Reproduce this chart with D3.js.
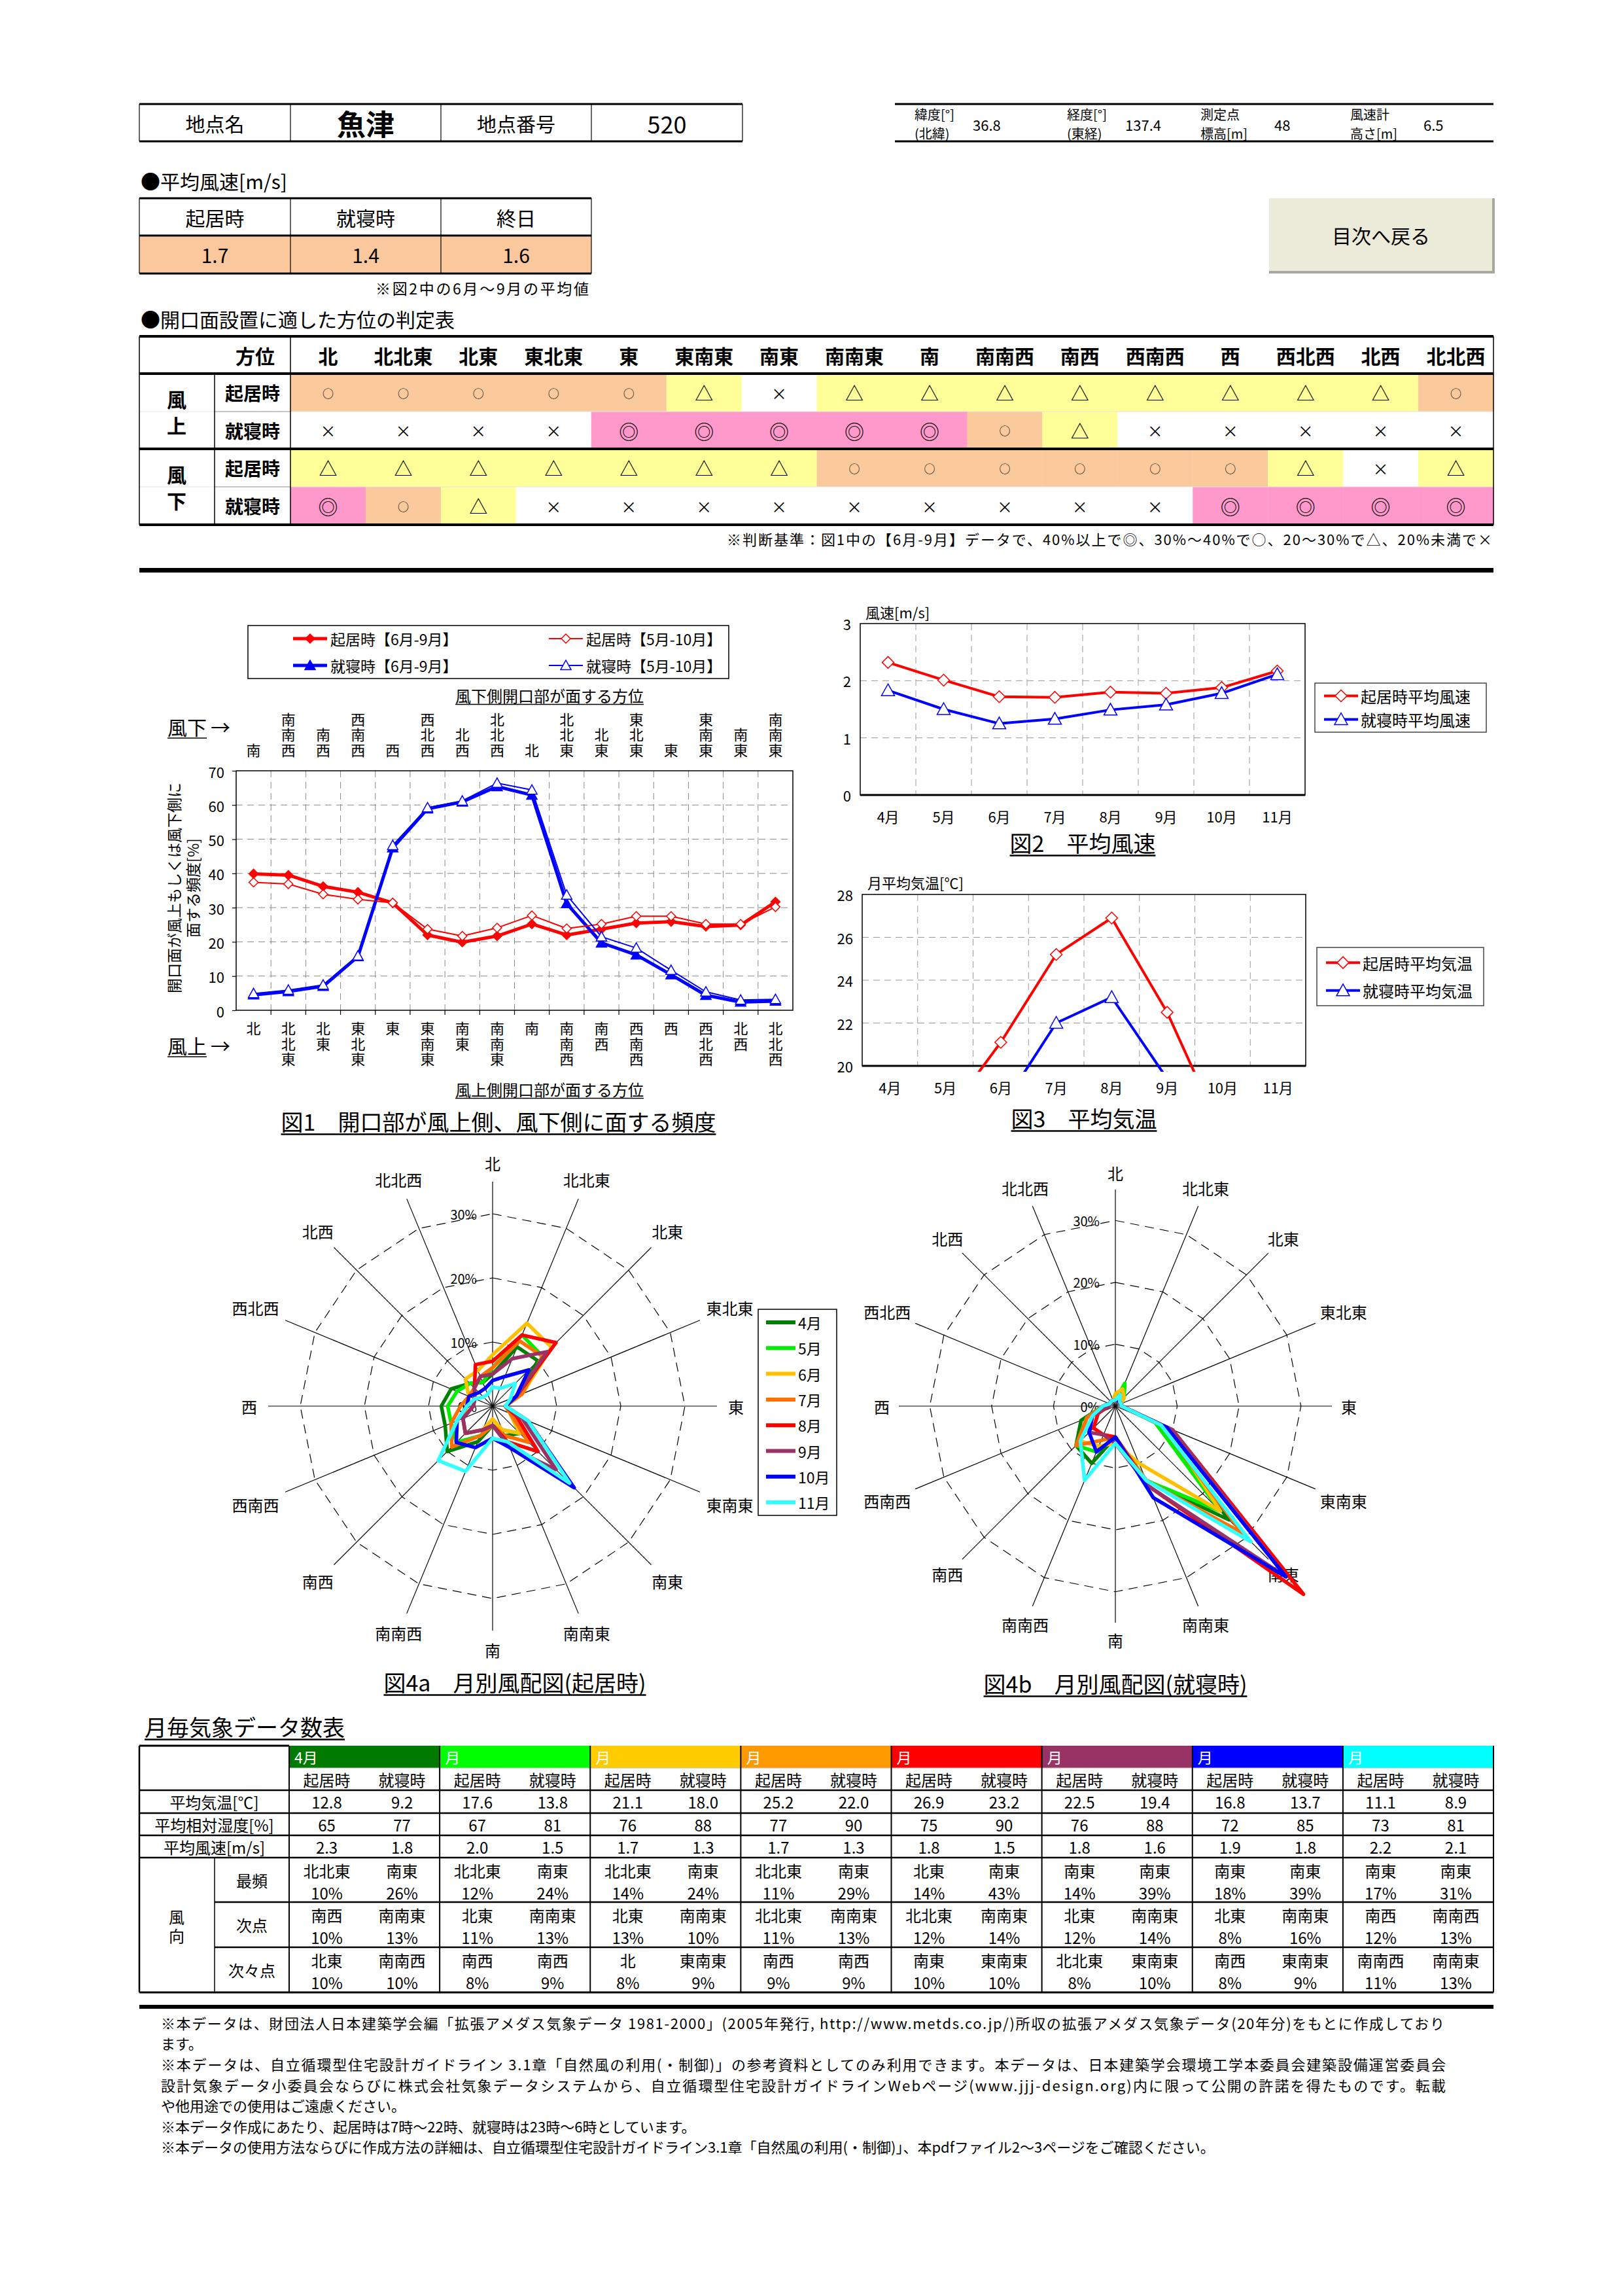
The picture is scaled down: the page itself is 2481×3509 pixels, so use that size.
<!DOCTYPE html>
<html lang="ja"><head><meta charset="utf-8"><title>魚津</title>
<script src="https://cdn.jsdelivr.net/npm/d3@7/dist/d3.min.js"></script>
<style>
html,body{margin:0;padding:0;background:#fff;}
svg{display:block;}
text{font-family:"Noto Sans CJK JP","Noto Sans",sans-serif;}
</style></head><body>
<svg id="page" width="2481" height="3509" xmlns="http://www.w3.org/2000/svg"></svg>
<script>
// ================= DATA =================
const siteInfo = ["地点名","魚津","地点番号","520"];
const geoLabels = [["緯度[°]","(北緯)"],["経度[°]","(東経)"],["測定点","標高[m]"],["風速計","高さ[m]"]];
const geoValues = ["36.8","137.4","48","6.5"];
const avgWindLabels = ["起居時","就寝時","終日"];
const avgWindValues = ["1.7","1.4","1.6"];

const directions = ["北","北北東","北東","東北東","東","東南東","南東","南南東","南","南南西","南西","西南西","西","西北西","北西","北北西"];
const leeDirections = ["南","南南西","南西","西南西","西","西北西","北西","北北西","北","北北東","北東","東北東","東","東南東","南東","南南東"];

const judgeGroups = ["風上","風下"];
const judgeTimes = ["起居時","就寝時"];
const judgeUpDay   = ["○","○","○","○","○","△","×","△","△","△","△","△","△","△","△","○"];
const judgeUpNight = ["×","×","×","×","◎","◎","◎","◎","◎","○","△","×","×","×","×","×"];
const judgeDnDay   = ["△","△","△","△","△","△","△","○","○","○","○","○","○","△","×","△"];
const judgeDnNight = ["◎","○","△","×","×","×","×","×","×","×","×","×","◎","◎","◎","◎"];
const judgeNote = "※判断基準：図1中の【6月-9月】データで、40%以上で◎、30%～40%で○、20～30%で△、20%未満で×";

// Fig.1 frequency [%] (windward direction order = directions)
const fig1DayJunSep   = [39.9,39.5,36.2,34.5,31.4,22.0,19.9,21.7,25.2,22.0,23.7,25.5,25.9,24.5,24.9,31.7];
const fig1DayMayOct   = [37.4,36.9,33.9,32.4,31.4,23.7,21.7,24.1,27.7,23.9,25.2,27.5,27.5,25.2,25.2,30.2];
const fig1NightJunSep = [4.5,5.5,7.0,15.7,47.5,58.9,60.9,65.4,62.9,31.2,19.7,16.2,10.4,4.4,2.4,2.7];
const fig1NightMayOct = [4.9,5.9,7.4,15.9,48.2,59.2,61.2,66.4,64.4,33.7,21.5,18.2,11.7,5.4,3.0,3.2];
const fig1Ticks = [0,10,20,30,40,50,60,70];
const fig1Legend = ["起居時【6月-9月】","起居時【5月-10月】","就寝時【6月-9月】","就寝時【5月-10月】"];

// Monthly
const months = ["4月","5月","6月","7月","8月","9月","10月","11月"];
const fig2Day   = [2.32,2.01,1.72,1.71,1.80,1.78,1.88,2.17];
const fig2Night = [1.83,1.50,1.25,1.33,1.49,1.58,1.78,2.11];
const fig2Ticks = [0,1,2,3];
const fig2Legend = ["起居時平均風速","就寝時平均風速"];
const tempDay   = [12.8,17.6,21.1,25.2,26.9,22.5,16.8,11.1];
const tempNight = [9.2,13.8,18.0,22.0,23.2,19.4,13.7,8.9];
const fig3Ticks = [20,22,24,26,28];
const fig3Legend = ["起居時平均気温","就寝時平均気温"];
const humDay   = [65,67,76,77,75,76,72,73];
const humNight = [77,81,88,90,90,88,85,81];
const wsDay    = [2.3,2.0,1.7,1.7,1.8,1.8,1.9,2.2];
const wsNight  = [1.8,1.5,1.3,1.3,1.5,1.6,1.8,2.1];

// Fig.4 monthly wind roses [%] (order = directions), 4月..11月
const roseDay = [
  [5,10,10,4,2,3,6,5,3,6,10,8,8,7,5,4],
  [6,12,11,5,2,3,6,4,3,5,8,7,7,6,5,4],
  [8,14,13,5,2,3,6,4,2,4,6,5,4,4,6,6],
  [6,11,11,5,2,3,8,5,3,5,9,7,5,4,4,5],
  [7,12,14,4,2,4,10,6,3,4,6,5,3,3,4,7],
  [5,8,12,4,2,5,14,7,3,4,6,5,3,3,4,5],
  [4,5,8,4,2,6,18,7,5,7,8,6,4,4,3,3],
  [3,3,5,3,2,6,17,6,5,11,12,6,4,3,2,2]
];
const roseNight = [
  [1,3,2,1,1,7,26,13,5,10,9,6,2,1,1,1],
  [1,4,2,1,1,7,24,13,5,8,9,5,2,1,1,1],
  [2,3,2,1,1,9,24,10,6,7,8,5,2,1,1,1],
  [1,2,1,1,1,8,29,13,5,6,9,5,2,1,1,1],
  [1,1,1,1,1,10,43,14,5,5,5,3,1,1,1,1],
  [1,1,1,1,1,10,39,14,6,5,6,4,1,1,1,1],
  [1,1,1,1,1,9,39,16,5,8,6,4,2,1,1,1],
  [1,2,1,1,1,8,31,13,6,13,8,4,2,1,1,1]
];
const roseTicks = [0,10,20,30];
const roseColors = ["#008000","#00EE00","#FFC000","#FF7000","#FF0000","#993366","#0000FF","#33FFFF"];
const headColors = ["#007A00","#00FF00","#FFCC00","#FF9900","#FF0000","#993366","#0000FF","#00FFFF"];
const headMonthLabels = ["4月","月","月","月","月","月","月","月"];

// Top-3 wind directions table
const topDirDay = [
  [["北北東",10],["南西",10],["北東",10]],
  [["北北東",12],["北東",11],["南西",8]],
  [["北北東",14],["北東",13],["北",8]],
  [["北北東",11],["北北東",11],["南西",9]],
  [["北東",14],["北北東",12],["南東",10]],
  [["南東",14],["北東",12],["北北東",8]],
  [["南東",18],["北東",8],["南西",8]],
  [["南東",17],["南西",12],["南南西",11]]
];
const topDirNight = [
  [["南東",26],["南南東",13],["南南西",10]],
  [["南東",24],["南南東",13],["南西",9]],
  [["南東",24],["南南東",10],["東南東",9]],
  [["南東",29],["南南東",13],["南西",9]],
  [["南東",43],["南南東",14],["東南東",10]],
  [["南東",39],["南南東",14],["東南東",10]],
  [["南東",39],["南南東",16],["東南東",9]],
  [["南東",31],["南南西",13],["南南東",13]]
];
const tableRowLabels = ["平均気温[℃]","平均相対湿度[%]","平均風速[m/s]"];
const rankLabels = ["最頻","次点","次々点"];

const footnotes = [
  "※本データは、財団法人日本建築学会編「拡張アメダス気象データ 1981-2000」(2005年発行, http://www.metds.co.jp/)所収の拡張アメダス気象データ(20年分)をもとに作成しており",
  "ます。",
  "※本データは、自立循環型住宅設計ガイドライン 3.1章「自然風の利用(・制御)」の参考資料としてのみ利用できます。本データは、日本建築学会環境工学本委員会建築設備運営委員会",
  "設計気象データ小委員会ならびに株式会社気象データシステムから、自立循環型住宅設計ガイドラインWebページ(www.jjj-design.org)内に限って公開の許諾を得たものです。転載",
  "や他用途での使用はご遠慮ください。",
  "※本データ作成にあたり、起居時は7時～22時、就寝時は23時～6時としています。",
  "※本データの使用方法ならびに作成方法の詳細は、自立循環型住宅設計ガイドライン3.1章「自然風の利用(・制御)」、本pdfファイル2～3ページをご確認ください。"
];

// ================= DRAW HELPERS =================
const svg = d3.select("#page");
function T(x,y,s,size,o={}){
  const p = o.parent || svg;
  const t = p.append("text").attr("x",x).attr("y",y).attr("font-size",size)
    .attr("text-anchor",o.anchor||"start").attr("dominant-baseline","central")
    .attr("fill",o.fill||"#000").text(s);
  if(o.weight) t.attr("font-weight",o.weight);
  if(o.len) t.attr("textLength",o.len).attr("lengthAdjust",o.adj||"spacing");
  if(o.rotate!==undefined) t.attr("transform",`rotate(${o.rotate},${x},${y})`);
  return t;
}
function L(x1,y1,x2,y2,w=1,c="#000",dash=null){
  const l = svg.append("line").attr("x1",x1).attr("y1",y1).attr("x2",x2).attr("y2",y2)
    .attr("stroke",c).attr("stroke-width",w);
  if(dash) l.attr("stroke-dasharray",dash);
  return l;
}
function R(x,y,w,h,fill,stroke=null,sw=1){
  const r = svg.append("rect").attr("x",x).attr("y",y).attr("width",w).attr("height",h).attr("fill",fill);
  if(stroke) r.attr("stroke",stroke).attr("stroke-width",sw);
  return r;
}
function UL(t,y,size,w=2){
  const b = t.node().getBBox();
  L(b.x, y+size*0.6, b.x+b.width, y+size*0.6, w);
}
// vertical (tategaki) text as one element
function VText(x,y,s,size,anchor){
  return svg.append("text").attr("x",x).attr("y",y).attr("font-size",size)
    .attr("text-anchor",anchor).style("writing-mode","vertical-rl")
    .style("letter-spacing","1.5px").attr("fill","#000").text(s);
}
const diamond = s => `M0,${-s}L${s},0L0,${s}L${-s},0Z`;
const triangle = s => `M0,${-s}L${s},${s*0.8}L${-s},${s*0.8}Z`;
function marker(x,y,path,fill,stroke,sw=1.5){
  svg.append("path").attr("transform",`translate(${x},${y})`).attr("d",path)
    .attr("fill",fill).attr("stroke",stroke).attr("stroke-width",sw);
}

// ================= HEADER =================
const infoX = [213,444,674,904,1135];
infoX.forEach(x=>L(x,159,x,216,1.2));
L(213,159,1135,159,3); L(213,216,1135,216,3);
const infoSizes = [30,44,30,36];
siteInfo.forEach((s,i)=>T((infoX[i]+infoX[i+1])/2,188,s,infoSizes[i],{anchor:"middle",weight:i===1?"bold":null}));
L(1368,159,2283,159,3); L(1368,216,2283,216,3);
const geoLX = [1398,1631,1835,2064], geoVX = [1487,1720,1948,2176];
geoLabels.forEach((p,i)=>{ T(geoLX[i],174,p[0],20); T(geoLX[i],203,p[1],20); T(geoVX[i],190,geoValues[i],22); });

// Average wind speed
T(215,276,"●平均風速[m/s]",30);
const awX = [213,444,674,904];
R(213,360,691,58,"#FAC89C");
L(213,303,904,303,3); L(213,360,904,360,3); L(213,418,904,418,3);
awX.forEach(x=>L(x,303,x,418,1.2));
avgWindLabels.forEach((s,i)=>T((awX[i]+awX[i+1])/2,332,s,30,{anchor:"middle"}));
avgWindValues.forEach((s,i)=>T((awX[i]+awX[i+1])/2,389,s,30,{anchor:"middle"}));
T(900,440,"※図2中の6月～9月の平均値",23,{anchor:"end",len:326});

// Button
R(1940,303,343,113,"#ECEAD8");
L(1940,416,2283,416,4,"#A8A8A0"); L(2283,303,2283,418,4,"#A8A8A0");
T(2111,359,"目次へ戻る",30,{anchor:"middle"});

// ================= JUDGEMENT TABLE =================
T(215,487,"●開口面設置に適した方位の判定表",30);
const jx0 = 444, jx1 = 2283, jw = (jx1-jx0)/16;
const jy = [514,571,629,686,744,802];
const judgeRows = [judgeUpDay,judgeUpNight,judgeDnDay,judgeDnNight];
const judgeFill = {"○":"#FBCA9C","△":"#FFFF99","×":"#FFFFFF","◎":"#FF99CC"};
const judgeSize = {"○":17,"△":28,"×":24,"◎":30};
judgeRows.forEach((row,r)=>row.forEach((s,c)=>{
  R(jx0+c*jw, jy[r+1], jw+0.5, jy[r+2]-jy[r+1], judgeFill[s]);
}));
judgeRows.forEach((row,r)=>row.forEach((s,c)=>{
  T(jx0+(c+0.5)*jw, (jy[r+1]+jy[r+2])/2, s, judgeSize[s], {anchor:"middle"});
}));
L(213,jy[2],2283,jy[2],1,"#E4E4E4");
L(328,jy[2],444,jy[2],1,"#999");
L(213,jy[4],2283,jy[4],1,"#E4E4E4");
L(328,jy[4],444,jy[4],1,"#999");
L(213,jy[0],2283,jy[0],4); L(213,jy[1],2283,jy[1],4); L(213,jy[3],2283,jy[3],4); L(213,jy[5],2283,jy[5],4);
L(213,jy[0],213,jy[5],1.5); L(2283,jy[0],2283,jy[5],1.5);
L(444,jy[0],444,jy[5],1.5); L(328,jy[1],328,jy[5],1.5);
T(420,543,"方位",30,{anchor:"end",weight:"bold"});
directions.forEach((d,c)=>T(jx0+(c+0.5)*jw,543,d,30,{anchor:"middle",weight:"bold"}));
judgeGroups.forEach((g,k)=>{
  const yc = (jy[1+2*k]+jy[3+2*k])/2;
  T(270,yc-20,g[0],30,{anchor:"middle",weight:"bold"});
  T(270,yc+20,g[1],30,{anchor:"middle",weight:"bold"});
  judgeTimes.forEach((t,m)=>T(386,(jy[1+2*k+m]+jy[2+2*k+m])/2,t,28,{anchor:"middle",weight:"bold"}));
});
T(2281,823,judgeNote,22,{anchor:"end",len:1170});
R(213,868,2070,7,"#000");

// ================= FIG 1 =================
const f1x = d3.scalePoint().domain(d3.range(16)).range([361,1212]).padding(0.5);
const f1y = d3.scaleLinear().domain([0,70]).range([1544,1178]);
const f1step = f1x.step();
// legend
R(379,956,735,81,"#fff","#000",1.5);
const legPos = [[448,976],[839,976],[448,1017],[839,1017]];
const legStyle = [
  {c:"#FF0000",w:5,m:diamond(7),f:"#FF0000"},
  {c:"#FF0000",w:2,m:diamond(7),f:"#fff"},
  {c:"#0000FF",w:5,m:triangle(8),f:"#0000FF"},
  {c:"#0000FF",w:2,m:triangle(8),f:"#fff"}
];
fig1Legend.forEach((s,i)=>{
  const [x,y] = legPos[i];
  L(x,y,x+52,y,legStyle[i].w,legStyle[i].c);
  marker(x+26,y,legStyle[i].m,legStyle[i].f,legStyle[i].c,1.5);
  T(x+57,y,s,23);
});
const tl1 = T(840,1062,"風下側開口部が面する方位",24,{anchor:"middle"}); UL(tl1,1062,24,1.5);
const tl2 = T(840,1664,"風上側開口部が面する方位",24,{anchor:"middle"}); UL(tl2,1664,24,1.5);
const fd = T(256,1110,"風下",30); UL(fd,1110,30,1.5); T(322,1110,"→",30);
const fu = T(256,1597,"風上",30); UL(fu,1597,30,1.5); T(322,1597,"→",30);
leeDirections.forEach((d,i)=>VText(f1x(i),1159,d,22,"end"));
directions.forEach((d,i)=>VText(f1x(i),1561,d,22,"start"));
// grid
fig1Ticks.filter(v=>v>0&&v<70).forEach(v=>L(361,f1y(v),1212,f1y(v),1,"#888","10,7"));
d3.range(1,16).forEach(k=>L(361+k*f1step,1178,361+k*f1step,1544,1,"#888","10,7"));
d3.range(1,16).forEach(k=>L(361+k*f1step,1544,361+k*f1step,1551,1.2));
R(361,1178,851,366,"none","#000",1.5);
const f1ax = svg.append("g").attr("transform","translate(361,0)")
  .call(d3.axisLeft(f1y).tickValues(fig1Ticks).tickSize(6).tickPadding(12));
f1ax.select(".domain").remove();
f1ax.selectAll("line").attr("stroke","#000").attr("stroke-width",1.2);
f1ax.selectAll("text").attr("font-size",22).attr("fill","#000").attr("dy",null).attr("dominant-baseline","central");
T(265,1357,"開口面が風上もしくは風下側に",23,{anchor:"middle",rotate:-90});
T(294,1357,"面する頻度[%]",23,{anchor:"middle",rotate:-90});
const f1line = d3.line().x((d,i)=>f1x(i)).y(d=>f1y(d));
function f1series(data,c,w,m,fill){
  svg.append("path").attr("d",f1line(data)).attr("fill","none").attr("stroke",c).attr("stroke-width",w).attr("stroke-linejoin","round");
  data.forEach((d,i)=>marker(f1x(i),f1y(d),m,fill,c,1.5));
}
f1series(fig1DayJunSep,"#FF0000",5,diamond(7),"#FF0000");
f1series(fig1NightJunSep,"#0000FF",5,triangle(8),"#0000FF");
f1series(fig1DayMayOct,"#FF0000",2,diamond(7),"#fff");
f1series(fig1NightMayOct,"#0000FF",2,triangle(8),"#fff");
const t1 = T(762,1713,"図1　開口部が風上側、風下側に面する頻度",34,{anchor:"middle"}); UL(t1,1713,34,2.5);

// ================= FIG 2 / FIG 3 =================
function monthChart(x0,x1,y0,y1,domain,ticks,day,night,unitLabel,unitY,title,titleY,legend,legBox,clipBottom){
  const xs = d3.scaleBand().domain(months).range([x0,x1]);
  const ys = d3.scaleLinear().domain(domain).range([y1,y0]);
  ticks.slice(1,-1).forEach(v=>L(x0,ys(v),x1,ys(v),1,"#999","10,7"));
  months.slice(1).forEach(m=>L(xs(m),y0,xs(m),y1,1,"#999","10,7"));
  R(x0,y0,x1-x0,y1-y0,"none","#000",1.5);
  L(x0,y1,x1,y1,3);
  ticks.forEach(v=>T(x0-14,ys(v),String(v),22,{anchor:"end"}));
  months.forEach(m=>T(xs(m)+xs.bandwidth()/2,y1+32,m,22,{anchor:"middle"}));
  T(x0+8,unitY,unitLabel,22);
  const id = "clip"+x0+"_"+y0;
  svg.append("clipPath").attr("id",id).append("rect").attr("x",x0-20).attr("y",y0-20).attr("width",x1-x0+40).attr("height",clipBottom-y0+20);
  const ln = d3.line().x((d,i)=>xs(months[i])+xs.bandwidth()/2).y(d=>ys(d));
  const gg = svg.append("g").attr("clip-path",`url(#${id})`);
  [[day,"#FF0000",diamond(9)],[night,"#0000FF",triangle(10)]].forEach(([data,c,m])=>{
    gg.append("path").attr("d",ln(data)).attr("fill","none").attr("stroke",c).attr("stroke-width",4).attr("stroke-linejoin","round");
    data.forEach((d,i)=>gg.append("path").attr("transform",`translate(${xs(months[i])+xs.bandwidth()/2},${ys(d)})`).attr("d",m).attr("fill","#fff").attr("stroke",c).attr("stroke-width",1.5));
  });
  const tt = T((x0+x1)/2,titleY,title,34,{anchor:"middle"}); UL(tt,titleY,34,2.5);
  const [bx,by,bw,bh] = legBox;
  R(bx,by,bw,bh,"#fff","#444",1.5);
  legend.forEach((s,i)=>{
    const yy = by+bh*(i===0?0.26:0.74);
    L(bx+14,yy,bx+66,yy,4,i===0?"#FF0000":"#0000FF");
    marker(bx+40,yy,i===0?diamond(9):triangle(10),"#fff",i===0?"#FF0000":"#0000FF",1.5);
    T(bx+70,yy,s,24);
  });
}
monthChart(1315,1995,953,1215,[0,3],fig2Ticks,fig2Day,fig2Night,"風速[m/s]",935,"図2　平均風速",1287,fig2Legend,[2010,1044,262,75],1215);
monthChart(1318,1996,1367,1629,[20,28],fig3Ticks,tempDay,tempNight,"月平均気温[℃]",1348,"図3　平均気温",1708,fig3Legend,[2013,1448,255,89],1638);

// ================= FIG 4 (wind roses) =================
function rose(cx,cy,rmax,labelBase,data,title,titleX,titleY){
  const r = d3.scaleLinear().domain([0,35]).range([0,rmax]);
  const ang = i => i*Math.PI/8;
  roseTicks.filter(v=>v>0).forEach(v=>{
    const pts = d3.range(16).map(i=>[cx+r(v)*Math.sin(ang(i)), cy-r(v)*Math.cos(ang(i))]);
    svg.append("polygon").attr("points",pts.map(p=>p.join(",")).join(" ")).attr("fill","none")
      .attr("stroke","#000").attr("stroke-width",1.2).attr("stroke-dasharray","14,9");
  });
  d3.range(16).forEach(i=>L(cx,cy,cx+rmax*Math.sin(ang(i)),cy-rmax*Math.cos(ang(i)),1.2));
  directions.forEach((d,i)=>{
    const t = T(0,0,d,24,{anchor:"middle"});
    const w = t.node().getBBox().width;
    const s = Math.sin(ang(i));
    const rl = labelBase + Math.max(0,w/2-12)*s*s;
    t.attr("x",cx+rl*s).attr("y",cy-rl*Math.cos(ang(i)));
  });
  roseTicks.forEach(v=>T(cx-24,cy-r(v),v+"%",20,{anchor:"end"}));
  const ln = d3.lineRadial().angle((d,i)=>ang(i)).radius(d=>r(d)).curve(d3.curveLinearClosed);
  data.forEach((s,k)=>svg.append("path").attr("transform",`translate(${cx},${cy})`).attr("d",ln(s))
    .attr("fill","none").attr("stroke",roseColors[k]).attr("stroke-width",5.5).attr("stroke-linejoin","round"));
  const tt = T(titleX,titleY,title,34,{anchor:"middle"}); UL(tt,titleY,34,2.5);
}
rose(753,2149,343,372,roseDay,"図4a　月別風配図(起居時)",787,2570);
rose(1705,2149,331,357,roseNight,"図4b　月別風配図(就寝時)",1705,2572);
// legend 4a
R(1159,2001,120,315,"#fff","#000",1.5);
months.forEach((m,i)=>{
  const yy = 2021+i*39.3;
  L(1171,yy,1216,yy,6,roseColors[i]);
  T(1220,yy,m,23);
});

// ================= MONTHLY TABLE =================
const mt = T(221,2638,"月毎気象データ数表",34); UL(mt,2638,34,2.5);
const tx0 = 213, tlab = 442, tx1 = 2283, tcw = (tx1-tlab)/8;
const ty = [2668,2702,2736,2771,2805,2839,2907,2976,3045];
months.forEach((m,i)=>{
  R(tlab+i*tcw,ty[0],tcw,ty[1]-ty[0],headColors[i]);
  T(tlab+i*tcw+8,(ty[0]+ty[1])/2,headMonthLabels[i],23,{fill:"#fff"});
  const cL = tlab+i*tcw+tcw*0.25, cR = tlab+i*tcw+tcw*0.75;
  T(cL,(ty[1]+ty[2])/2,"起居時",24,{anchor:"middle"});
  T(cR,(ty[1]+ty[2])/2,"就寝時",24,{anchor:"middle"});
  const rows = [[tempDay[i].toFixed(1),tempNight[i].toFixed(1)],[String(humDay[i]),String(humNight[i])],[wsDay[i].toFixed(1),wsNight[i].toFixed(1)]];
  rows.forEach((rv,k)=>{
    const yc = (ty[2+k]+ty[3+k])/2;
    T(cL,yc,rv[0],24,{anchor:"middle"}); T(cR,yc,rv[1],24,{anchor:"middle"});
  });
  [0,1,2].forEach(k=>{
    const top = ty[5+k];
    T(cL,top+19,topDirDay[i][k][0],24,{anchor:"middle"});
    T(cL,top+53,topDirDay[i][k][1]+"%",24,{anchor:"middle"});
    T(cR,top+19,topDirNight[i][k][0],24,{anchor:"middle"});
    T(cR,top+53,topDirNight[i][k][1]+"%",24,{anchor:"middle"});
  });
});
tableRowLabels.forEach((s,k)=>T((tx0+tlab)/2,(ty[2+k]+ty[3+k])/2,s,24,{anchor:"middle"}));
rankLabels.forEach((s,k)=>T(385,(ty[5+k]+ty[6+k])/2,s,24,{anchor:"middle"}));
T(270,2928,"風",24,{anchor:"middle"}); T(270,2957,"向",24,{anchor:"middle"});
// table lines
L(tlab,ty[1],tx1,ty[1],1,"#BBB");
[2,3,4,5].forEach(k=>L(tx0,ty[k],tx1,ty[k],2.5));
[6,7].forEach(k=>L(328,ty[k],tx1,ty[k],2.5));
L(328,ty[5],328,ty[8],1.5);
d3.range(0,9).forEach(i=>L(tlab+i*tcw,ty[0],tlab+i*tcw,ty[8],2));
L(tx0,ty[0],tlab,ty[0],3);
L(tx0,ty[8],tx1,ty[8],3);
L(tx0,ty[0],tx0,ty[8],2.5);

// ================= FOOTNOTES =================
R(213,3064,2070,6,"#000");
const fnY = [3091,3122,3154,3186,3217,3249,3280];
const fnLen = [1962,null,1964,1964,null,null,null];
footnotes.forEach((s,i)=>T(246,fnY[i],s,22,fnLen[i]?{len:fnLen[i]}:{}));
</script></body></html>
